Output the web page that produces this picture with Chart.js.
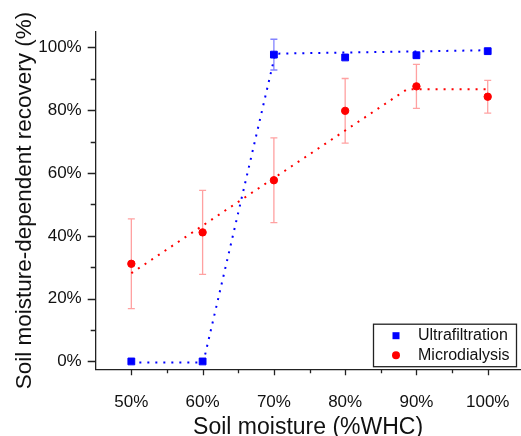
<!DOCTYPE html>
<html>
<head>
<meta charset="utf-8">
<script src="https://cdn.jsdelivr.net/npm/chart.js@4.4.1/dist/chart.umd.min.js"></script>
<style>
html, body { margin: 0; padding: 0; background: #fff; }
#wrap { width: 521px; height: 436px; }
</style>
</head>
<body>
<div id="wrap"><canvas id="chart" width="521" height="436"></canvas></div>
<script>
// Soil moisture levels (%WHC)
var moisture = [50, 60, 70, 80, 90, 100];

// Recovery values (%) and error bars
var ultraRecovery = [0, 0, 97.7, 96.8, 97.5, 98.8];
var ultraError = [0, 0, 4.9, 0, 0, 0];
var microRecovery = [31.1, 41.1, 57.7, 79.8, 87.6, 84.3];
var microError = [14.3, 13.4, 13.5, 10.3, 7.0, 5.2];

// Dotted fit lines (break points)
var ultraFitX = [50, 60.1, 70.2, 100];
var ultraFitY = [-0.3, -0.3, 98.0, 99.1];
var microFitX = [50, 88.7, 100];
var microFitY = [28.1, 86.7, 86.7];

// Axis ticks
var xMajorTicks = [50, 60, 70, 80, 90, 100];
var xMinorTicks = [55, 65, 75, 85, 95];
var yMajorTicks = [0, 20, 40, 60, 80, 100];
var yMinorTicks = [10, 30, 50, 70, 90];

var seriesLabels = ['Ultrafiltration', 'Microdialysis'];

var BLUE = '#0000ff';
var RED = '#ff0000';
var AXIS = '#222222';
var FONT = '"Liberation Sans", Arial, sans-serif';

function toPoints(xs, ys) {
    return xs.map(function (x, i) { return { x: x, y: ys[i] }; });
}

function buildTicks(major, minor) {
    return major.concat(minor).sort(function (a, b) { return a - b; }).map(function (v) {
        return { value: v };
    });
}

// Outward tick marks, longer for labelled ticks
var tickMarks = {
    id: 'tickMarks',
    afterDraw: function (chart) {
        var ctx = chart.ctx;
        var xs = chart.scales.x, ys = chart.scales.y;
        ctx.save();
        ctx.strokeStyle = AXIS;
        ctx.lineWidth = 1.3;
        ctx.beginPath();
        xs.ticks.forEach(function (t) {
            var px = Math.round(xs.getPixelForValue(t.value)) + 0.5;
            var len = xMajorTicks.indexOf(t.value) >= 0 ? 6 : 4;
            ctx.moveTo(px, xs.top);
            ctx.lineTo(px, xs.top + len);
        });
        ys.ticks.forEach(function (t) {
            var py = Math.round(ys.getPixelForValue(t.value)) + 0.5;
            var len = yMajorTicks.indexOf(t.value) >= 0 ? 8 : 5;
            ctx.moveTo(ys.right, py);
            ctx.lineTo(ys.right - len, py);
        });
        ctx.stroke();
        ctx.restore();
    }
};

// Error bars drawn under the markers
var errorBars = {
    id: 'errorBars',
    beforeDatasetsDraw: function (chart) {
        var ctx = chart.ctx;
        var xs = chart.scales.x, ys = chart.scales.y;
        var sets = [
            { vals: ultraRecovery, errs: ultraError, color: 'rgba(90, 90, 255, 0.75)' },
            { vals: microRecovery, errs: microError, color: 'rgba(255, 110, 110, 0.65)' }
        ];
        ctx.save();
        ctx.lineWidth = 1.3;
        sets.forEach(function (s) {
            ctx.strokeStyle = s.color;
            moisture.forEach(function (m, i) {
                if (!s.errs[i]) return;
                var px = xs.getPixelForValue(m);
                var top = ys.getPixelForValue(s.vals[i] + s.errs[i]);
                var bot = ys.getPixelForValue(s.vals[i] - s.errs[i]);
                ctx.beginPath();
                ctx.moveTo(px, top); ctx.lineTo(px, bot);
                ctx.moveTo(px - 3.5, top); ctx.lineTo(px + 3.5, top);
                ctx.moveTo(px - 3.5, bot); ctx.lineTo(px + 3.5, bot);
                ctx.stroke();
            });
        });
        ctx.restore();
    }
};

// Boxed legend in the lower right corner of the plot
var legendBox = {
    id: 'legendBox',
    afterDraw: function (chart) {
        var a = chart.chartArea, ctx = chart.ctx;
        var w = 143, h = 42.5;
        var x0 = a.right - 4 - w, y0 = a.bottom - 2.6 - h;
        ctx.save();
        ctx.fillStyle = '#fff';
        ctx.fillRect(x0, y0, w, h);
        ctx.strokeStyle = AXIS;
        ctx.lineWidth = 1.3;
        ctx.strokeRect(x0, y0, w, h);
        var rows = [y0 + 11.5, y0 + 31];
        ctx.fillStyle = BLUE;
        ctx.fillRect(x0 + 19, rows[0] - 3.5, 7, 7);
        ctx.fillStyle = RED;
        ctx.beginPath();
        ctx.arc(x0 + 22.5, rows[1], 4, 0, Math.PI * 2);
        ctx.fill();
        ctx.fillStyle = '#111';
        ctx.font = '16px ' + FONT;
        ctx.textBaseline = 'middle';
        ctx.textAlign = 'left';
        ctx.fillText(seriesLabels[0], x0 + 44.5, rows[0]);
        ctx.fillText(seriesLabels[1], x0 + 44.5, rows[1]);
        ctx.restore();
    }
};

var ctx = document.getElementById('chart').getContext('2d');
new Chart(ctx, {
    type: 'scatter',
    data: {
        datasets: [
            {
                label: seriesLabels[0] + ' fit',
                type: 'line',
                data: toPoints(ultraFitX, ultraFitY),
                borderColor: BLUE,
                borderWidth: 2,
                borderDash: [2, 6],
                pointRadius: 0,
                fill: false,
                tension: 0,
                order: 3
            },
            {
                label: seriesLabels[1] + ' fit',
                type: 'line',
                data: toPoints(microFitX, microFitY),
                borderColor: RED,
                borderWidth: 2,
                borderDash: [2, 6],
                pointRadius: 0,
                fill: false,
                tension: 0,
                order: 3
            },
            {
                label: seriesLabels[0],
                data: toPoints(moisture, ultraRecovery),
                pointStyle: 'rect',
                pointRadius: 4.8,
                backgroundColor: BLUE,
                borderColor: BLUE,
                borderWidth: 1,
                order: 1
            },
            {
                label: seriesLabels[1],
                data: toPoints(moisture, microRecovery),
                pointStyle: 'circle',
                pointRadius: 3.7,
                backgroundColor: RED,
                borderColor: RED,
                borderWidth: 1,
                order: 1
            }
        ]
    },
    options: {
        responsive: false,
        animation: false,
        devicePixelRatio: 1,
        layout: { autoPadding: false, padding: { top: 31.7, right: 0.5, left: 0, bottom: 0 } },
        plugins: {
            legend: { display: false },
            tooltip: { enabled: false }
        },
        scales: {
            x: {
                type: 'linear',
                min: 45,
                max: 104.6,
                afterBuildTicks: function (scale) {
                    scale.ticks = buildTicks(xMajorTicks, xMinorTicks);
                },
                afterFit: function (scale) {
                    scale.height = 66.7;
                    scale.paddingLeft = 0;
                    scale.paddingRight = 0;
                },
                grid: { display: false, drawTicks: false },
                border: { display: true, color: AXIS, width: 1.3 },
                ticks: {
                    autoSkip: false,
                    maxRotation: 0,
                    padding: 23,
                    color: '#111',
                    font: { family: FONT, size: 17 },
                    callback: function (v) {
                        return xMajorTicks.indexOf(v) >= 0 ? v + '%' : '';
                    }
                },
                title: {
                    display: true,
                    text: 'Soil moisture (%WHC)',
                    color: '#111',
                    font: { family: FONT, size: 23 },
                    padding: { top: 0, bottom: -5 }
                }
            },
            y: {
                type: 'linear',
                min: -2.5,
                max: 105,
                afterBuildTicks: function (scale) {
                    scale.ticks = buildTicks(yMajorTicks, yMinorTicks);
                },
                afterFit: function (scale) {
                    scale.width = 95.7;
                    scale.paddingTop = 0;
                    scale.paddingBottom = 0;
                },
                grid: { display: false, drawTicks: false },
                border: { display: true, color: AXIS, width: 1.3 },
                ticks: {
                    autoSkip: false,
                    padding: 14,
                    color: '#111',
                    font: { family: FONT, size: 17 },
                    callback: function (v) {
                        return yMajorTicks.indexOf(v) >= 0 ? v + '%' : '';
                    }
                },
                title: {
                    display: true,
                    text: 'Soil moisture-dependent recovery (%)',
                    color: '#111',
                    font: { family: FONT, size: 22.5 },
                    padding: { top: 11.5, bottom: 0 }
                }
            }
        }
    },
    plugins: [errorBars, tickMarks, legendBox]
});
</script>
</body>
</html>
